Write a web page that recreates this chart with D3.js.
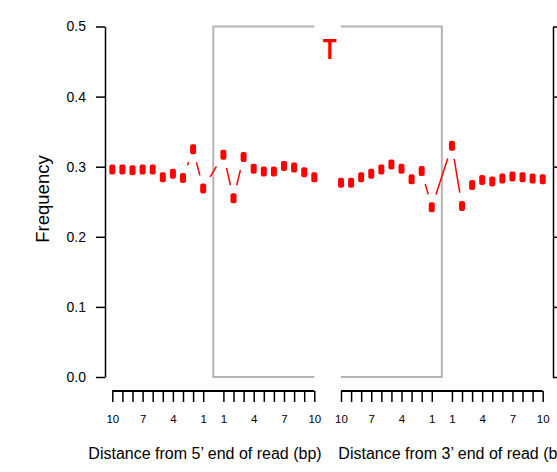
<!DOCTYPE html>
<html>
<head>
<meta charset="utf-8">
<script src="https://cdn.jsdelivr.net/npm/d3@7"></script>
<style>
  body { margin: 0; background: #fff; }
  text { font-family: "Liberation Sans", Arial, sans-serif; }
</style>
</head>
<body>
<script>
// positions around each read end (slot 11 is the read boundary, left empty)
const slots = [1, 2, 3, 4, 5, 6, 7, 8, 9, 10, 12, 13, 14, 15, 16, 17, 18, 19, 20, 21];
const slotLabels = ["10", "", "", "7", "", "", "4", "", "", "1", "1", "", "", "4", "", "", "7", "", "", "10"];

// T frequency, 5' end: 10 bp before the read, then read positions 1..10
const freq5 = [0.296, 0.296, 0.295, 0.296, 0.296, 0.285, 0.290, 0.284, 0.325, 0.269,
               0.317, 0.255, 0.314, 0.297, 0.293, 0.293, 0.301, 0.299, 0.292, 0.285];
// T frequency, 3' end: read positions 10..1, then 10 bp after the read
const freq3 = [0.277, 0.277, 0.285, 0.290, 0.296, 0.303, 0.297, 0.282, 0.294, 0.242,
               0.330, 0.244, 0.274, 0.281, 0.279, 0.283, 0.286, 0.285, 0.283, 0.282];

const yTicks = [0, 0.1, 0.2, 0.3, 0.4, 0.5];
const baseLabel = "T";
const xTitles = ["Distance from 5\u2019 end of read (bp)", "Distance from 3\u2019 end of read (bp)"];

const W = 557, H = 472;
const svg = d3.select("body").append("svg")
  .attr("width", W)
  .attr("height", H);

const y = d3.scaleLinear().domain([0, 0.5]).range([377, 26.5]);

const panels = [
  { x: d3.scaleLinear().domain([1, 21]).range([112.3, 314.3]), freq: freq5,
    clip: [104, 323], box: [21, 11], title: xTitles[0], titleX: 205 },
  { x: d3.scaleLinear().domain([1, 21]).range([341, 542.7]), freq: freq3,
    clip: [333, 553], box: [1, 11], title: xTitles[1], titleX: 455 }
];

// R style type="b" lines: segments shortened around each point
function gapSegments(pts, gap) {
  const segs = [];
  for (let i = 0; i < pts.length - 1; i++) {
    const [x0, y0] = pts[i], [x1, y1] = pts[i + 1];
    const dx = x1 - x0, dy = y1 - y0;
    const len = Math.sqrt(dx * dx + dy * dy);
    if (len <= 2 * gap) continue;
    const ux = dx / len, uy = dy / len;
    segs.push([x0 + ux * gap, y0 + uy * gap, x1 - ux * gap, y1 - uy * gap]);
  }
  return segs;
}

panels.forEach((p, pi) => {
  const clipId = "clip" + pi;
  svg.append("clipPath").attr("id", clipId)
    .append("rect")
    .attr("x", p.clip[0]).attr("y", 0)
    .attr("width", p.clip[1] - p.clip[0]).attr("height", 385);

  const g = svg.append("g").attr("clip-path", `url(#${clipId})`);

  // grey frame marking the read
  const [bOut, bIn] = p.box;
  g.append("path")
    .attr("d", `M${p.x(bOut)},${y(0.5)}L${p.x(bIn)},${y(0.5)}L${p.x(bIn)},${y(0)}L${p.x(bOut)},${y(0)}`)
    .attr("fill", "none")
    .attr("stroke", "#b4b4b4")
    .attr("stroke-width", 2);

  const pts = slots.map((s, i) => [p.x(s), y(p.freq[i])]);

  g.selectAll("line.seg")
    .data(gapSegments(pts, 13.5))
    .enter().append("line")
    .attr("class", "seg")
    .attr("x1", d => d[0]).attr("y1", d => d[1])
    .attr("x2", d => d[2]).attr("y2", d => d[3])
    .attr("stroke", "#ff0000")
    .attr("stroke-width", 1.5);

  g.selectAll("rect.pt")
    .data(pts)
    .enter().append("rect")
    .attr("class", "pt")
    .attr("x", d => d[0] - 3).attr("y", d => d[1] - 5)
    .attr("width", 6).attr("height", 10)
    .attr("rx", 2)
    .attr("fill", "#ff0000");

  // bottom axis, drawn under the plot
  const ax = svg.append("g").attr("transform", "translate(0,391)");
  ax.call(d3.axisBottom(p.x)
      .tickValues(slots)
      .tickFormat((d, i) => slotLabels[i])
      .tickSize(11)
      .tickPadding(13));
  ax.select(".domain").remove();
  ax.selectAll(".tick line").attr("stroke", "#000").attr("stroke-width", 1.5);
  ax.selectAll(".tick text").attr("font-size", 11.5).attr("fill", "#000");
  ax.append("line")
    .attr("x1", p.x(1)).attr("x2", p.x(21))
    .attr("y1", 0).attr("y2", 0)
    .attr("stroke", "#000").attr("stroke-width", 2);

  svg.append("text")
    .attr("x", p.titleX).attr("y", 459)
    .attr("text-anchor", "middle")
    .attr("font-size", 16)
    .text(p.title);
});

// left y axis
const yl = svg.append("g").attr("transform", "translate(105,0)");
yl.call(d3.axisLeft(y).tickValues(yTicks).tickFormat(d3.format(".1f"))
  .tickSize(9).tickSizeOuter(0).tickPadding(10));
yl.selectAll("path, line").attr("stroke", "#000").attr("stroke-width", 1.5);
yl.selectAll("text").attr("font-size", 14).attr("fill", "#000");

// right y axis of the 3' panel (labels fall outside the picture)
const yr = svg.append("g").attr("transform", "translate(553,0)");
yr.call(d3.axisRight(y).tickValues(yTicks).tickFormat("")
  .tickSize(9).tickSizeOuter(0));
yr.selectAll("path, line").attr("stroke", "#000").attr("stroke-width", 1.5);

svg.append("text")
  .attr("transform", "translate(49,199) rotate(-90)")
  .attr("text-anchor", "middle")
  .attr("font-size", 18.5)
  .text("Frequency");

svg.append("text")
  .attr("x", 330).attr("y", 59)
  .attr("text-anchor", "middle")
  .attr("font-size", 30)
  .attr("font-weight", "bold")
  .attr("fill", "#ff0000")
  .attr("transform", "translate(330,0) scale(0.75,1) translate(-330,0)")
  .text(baseLabel);
</script>
</body>
</html>
